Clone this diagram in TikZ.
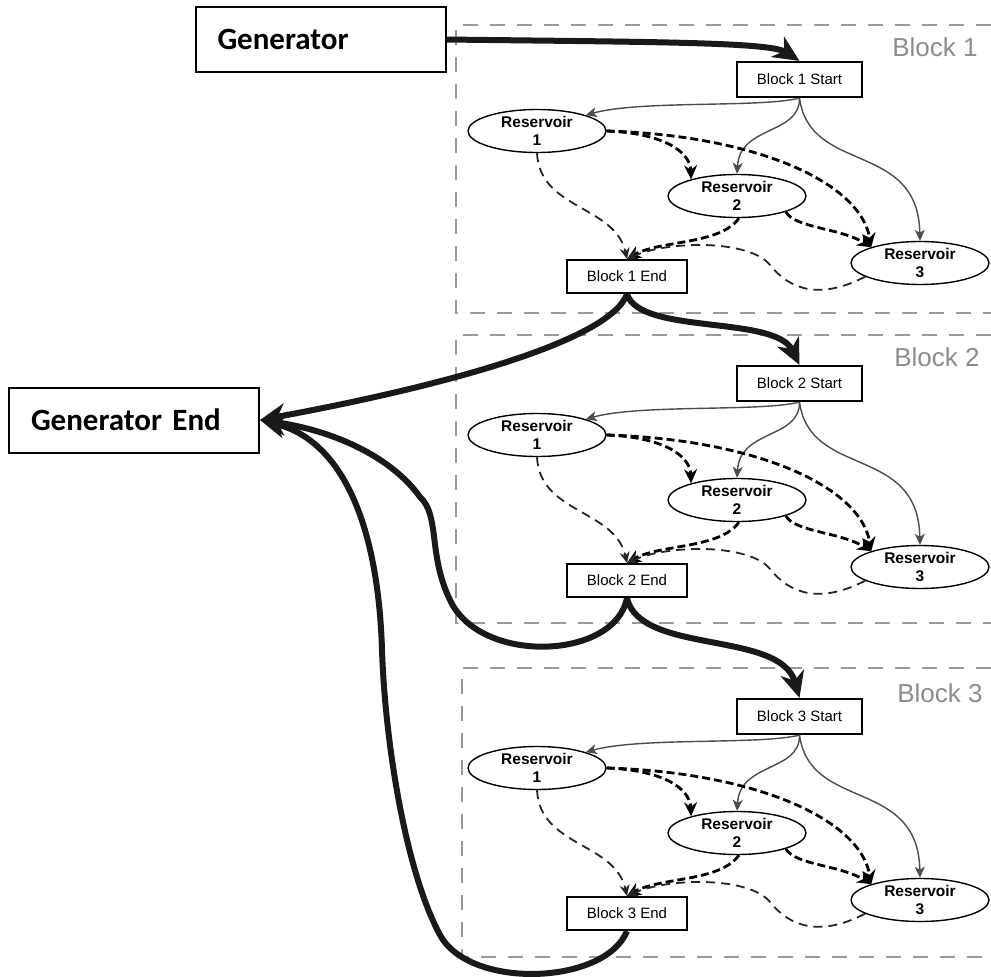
\documentclass[tikz,border=0pt]{standalone}
\usepackage{fontspec}
\setmainfont{Liberation Sans}
\newfontfamily\calib{Carlito}
\usetikzlibrary{arrows.meta,shapes.geometric}
\tikzset{
  bigbox/.style={draw=black,line width=2pt,fill=white,minimum height=65pt,text width=206pt,inner xsep=22pt,align=left,font=\calib\bfseries\fontsize{31}{36}\selectfont},
  smallbox/.style={draw=black,line width=2.2pt,fill=white,minimum width=125pt,minimum height=35pt,inner sep=0pt,font=\fontsize{15}{17}\selectfont},
  endbox/.style={smallbox,minimum width=120pt,minimum height=33pt},
  res/.style={draw=black,line width=1.4pt,ellipse,fill=white,minimum width=138pt,minimum height=43pt,inner sep=0pt,align=center,font=\bfseries\fontsize{15.5}{18}\selectfont},
  blockframe/.style={draw=black!40,line width=2.5pt,dash pattern=on 15pt off 12pt},
  blocklabel/.style={text=black!45,font=\fontsize{26}{30}\selectfont,inner sep=0pt},
  thinarr/.style={draw=black!70,line width=1.4pt,-{Stealth[length=11pt,width=10pt,inset=3pt]}},
  darkdash/.style={draw=black,line width=2.8pt,dash pattern=on 8pt off 4pt,-{Stealth[length=14pt,width=13pt]}},
  meddash/.style={draw=black!85,line width=1.8pt,dash pattern=on 9pt off 6pt,-{Stealth[length=11pt,width=10pt]}},
  thick/.style={draw=black!90,line width=6pt,-{Stealth[length=26pt,width=24pt,inset=8pt]}}
}
\begin{document}
\begin{tikzpicture}[x=1pt,y=-1pt]
\useasboundingbox (0,0) rectangle (991,977);
\fill[white] (0,0) rectangle (991,977);
\foreach \b/\d/\rt/\rb/\rl/\lx/\ly in {1/0/25/313/456/935/47,2/304/335/623/456/937/357,3/637/668/957/462/940/693}{
  \draw[blockframe] (991,\rt) -- (\rl,\rt) -- (\rl,\rb) -- (991,\rb);
  \node[blocklabel] (lab\b) at (\lx,\ly) {Block \b};
  \begin{scope}[yshift=-\d pt]
    \node[smallbox] (s\b) at (799.5,79.5) {Block \b\ Start};
    \node[res] (ra\b) at (537,131) {Reservoir\\1};
    \node[res] (rb\b) at (737,196) {Reservoir\\2};
    \node[res] (rc\b) at (920,263) {Reservoir\\3};
    \node[endbox] (e\b) at (627,276.5) {Block \b\ End};
    \draw[thinarr] (s\b.south) .. controls (760,108) and (640,100) .. (ra\b.18);
    \draw[thinarr] (s\b.south) .. controls (800,135) and (740,125) .. (rb\b.north);
    \draw[thinarr] (s\b.south) .. controls (810,175) and (918,140) .. (rc\b.north);
    \draw[darkdash] (ra\b.east) .. controls (660,133) and (690,150) .. (rb\b.160);
    \draw[darkdash] (ra\b.east) .. controls (750,135) and (860,180) .. (rc\b.162);
    \draw[darkdash] (rb\b.-18) .. controls (795,228) and (840,228) .. (rc\b.162);
    \draw[meddash] (ra\b.south) .. controls (540,210) and (615,205) .. (e\b.north);
    \draw[darkdash] (rb\b.-85) .. controls (720,245) and (660,240) .. (e\b.north);
    \draw[meddash] (rc\b.194) .. controls (820,300) and (790,290) .. (770,265) .. controls (750,240) and (670,240) .. (e\b.north);
  \end{scope}
}
\node[bigbox] (gen) at (320.5,39.5) {Generator};
\node[bigbox] (ge) at (134,420) {Generator End};
\draw[thick] (gen.east) .. controls (650,42) and (770,42) .. (s1.north);
\draw[thick] (e1.south) .. controls (640,335) and (775,315) .. (s2.north);
\draw[thick] (e1.south) .. controls (610,340) and (450,385) .. (ge.east);
\draw[thick] (e2.south) .. controls (640,655) and (780,630) .. (s3.north);
\draw[thick] (e2.south) .. controls (615,660) and (480,665) .. (450,600) .. controls (428,555) and (440,515) .. (420,497) .. controls (390,455) and (330,430) .. (ge.east);
\draw[thick] (e3.south) .. controls (605,985) and (470,990) .. (440,935) .. controls (405,870) and (385,740) .. (382,650) .. controls (378,520) and (340,440) .. (ge.east);
\end{tikzpicture}
\end{document}
